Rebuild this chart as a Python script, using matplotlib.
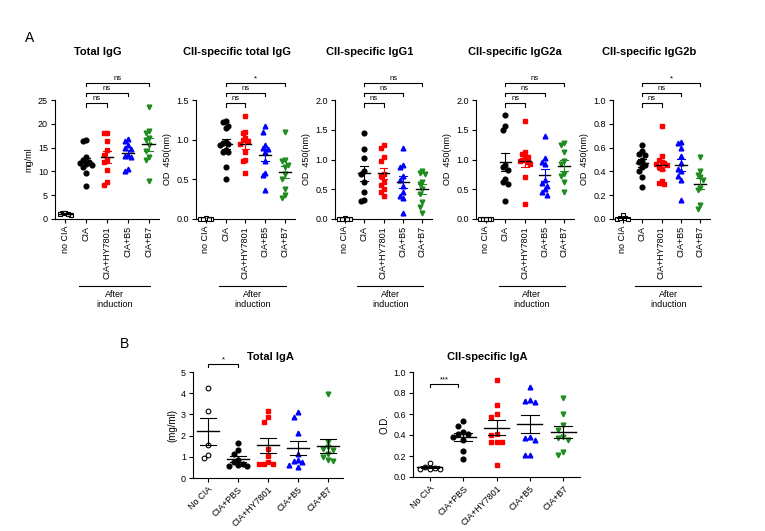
import numpy as np
import matplotlib
matplotlib.use('Agg')
import matplotlib.pyplot as plt
import matplotlib.transforms as mtransforms

plt.rcParams['font.family'] = ['Liberation Sans', 'DejaVu Sans']

W, H = 765, 531

# ---- panel A data ----
groups_a = ['no CIA', 'CIA', 'CIA+HY7801', 'CIA+B5', 'CIA+B7']

total_igg = [
    [1.2, 1.0, 1.3, 0.9, 1.1],
    [16.5, 16.3, 13.0, 12.5, 12.0, 11.8, 11.5, 11.3, 11.0, 9.7, 7.0],
    [18.0, 18.0, 16.3, 14.5, 13.5, 12.5, 12.0, 10.3, 7.7, 7.2],
    [16.8, 16.3, 15.5, 15.0, 14.8, 13.5, 13.3, 13.0, 10.5, 10.0],
    [23.5, 18.5, 18.0, 17.0, 16.5, 15.5, 14.3, 13.0, 12.5, 8.0],
]
cii_total_igg = [
    [0.0, 0.0, 0.01, 0.0, 0.0],
    [1.24, 1.22, 1.17, 1.15, 0.97, 0.96, 0.95, 0.93, 0.87, 0.85, 0.84, 0.66, 0.5],
    [1.3, 1.1, 1.08, 1.02, 1.0, 0.98, 0.95, 0.85, 0.75, 0.73, 0.58],
    [1.17, 1.1, 0.93, 0.9, 0.88, 0.85, 0.73, 0.58, 0.55, 0.37],
    [1.1, 0.75, 0.73, 0.68, 0.65, 0.57, 0.5, 0.38, 0.3, 0.27],
]
cii_igg1 = [
    [0.0, 0.0, 0.01, 0.0, 0.0],
    [1.45, 1.17, 1.03, 0.8, 0.75, 0.62, 0.45, 0.32, 0.3],
    [1.25, 1.2, 1.05, 0.97, 0.75, 0.72, 0.62, 0.57, 0.5, 0.45, 0.38],
    [1.2, 0.9, 0.87, 0.72, 0.65, 0.55, 0.45, 0.38, 0.35, 0.1],
    [0.8, 0.78, 0.75, 0.62, 0.58, 0.5, 0.42, 0.28, 0.2, 0.1],
]
cii_igg2a = [
    [0.0, 0.0, 0.0, 0.0, 0.0],
    [1.75, 1.57, 1.5, 0.9, 0.88, 0.83, 0.67, 0.62, 0.58, 0.3],
    [1.65, 1.13, 1.1, 1.05, 1.02, 1.0, 0.97, 0.95, 0.92, 0.7, 0.25],
    [1.4, 1.03, 0.95, 0.92, 0.65, 0.6, 0.55, 0.5, 0.45, 0.4],
    [1.27, 1.25, 1.13, 0.97, 0.93, 0.75, 0.72, 0.62, 0.45],
]
cii_igg2b = [
    [0.03, 0.01, 0.0, 0.0, 0.01],
    [0.62, 0.57, 0.55, 0.54, 0.5, 0.48, 0.45, 0.44, 0.4, 0.35, 0.27],
    [0.78, 0.53, 0.5, 0.48, 0.47, 0.46, 0.45, 0.44, 0.42, 0.32, 0.3, 0.29],
    [0.65, 0.64, 0.6, 0.53, 0.47, 0.42, 0.4, 0.36, 0.33, 0.16],
    [0.52, 0.4, 0.37, 0.35, 0.33, 0.26, 0.24, 0.12, 0.08],
]

titles_a = ['Total IgG', 'CII-specific total IgG', 'CII-specific IgG1',
            'CII-specific IgG2a', 'CII-specific IgG2b']
ylabels_a = ['mg/ml', 'OD  450(nm)', 'OD  450(nm)', 'OD  450(nm)', 'OD  450(nm)']
ylims_a = [25, 1.5, 2.0, 2.0, 1.0]
ysteps_a = [5, 0.5, 0.5, 0.5, 0.2]
tickfmt_a = ['{:.0f}', '{:.1f}', '{:.1f}', '{:.1f}', '{:.1f}']
sig_a = [['ns', 'ns', 'ns'], ['ns', 'ns', '*'], ['ns', 'ns', 'ns'],
         ['ns', 'ns', 'ns'], ['ns', 'ns', '*']]

# ---- panel B data ----
groups_b = ['No CIA', 'CIA+PBS', 'CIA+HY7801', 'CIA+B5', 'CIA+B7']
total_iga = [
    [4.25, 3.15, 1.55, 1.1, 0.95],
    [1.65, 1.32, 1.12, 0.85, 0.75, 0.65, 0.6, 0.58, 0.55],
    [3.15, 2.88, 2.65, 1.35, 1.05, 0.75, 0.68, 0.68, 0.68],
    [3.1, 2.88, 2.12, 1.15, 0.85, 0.8, 0.75, 0.62, 0.5],
    [3.95, 1.7, 1.45, 1.38, 1.3, 1.15, 1.0, 0.85, 0.8],
]
cii_iga = [
    [0.13, 0.1, 0.09, 0.08, 0.08, 0.08],
    [0.53, 0.49, 0.43, 0.41, 0.41, 0.38, 0.35, 0.25, 0.17],
    [0.92, 0.69, 0.6, 0.57, 0.41, 0.4, 0.33, 0.33, 0.33, 0.11],
    [0.86, 0.73, 0.72, 0.71, 0.38, 0.37, 0.35, 0.21, 0.21],
    [0.75, 0.6, 0.5, 0.45, 0.38, 0.37, 0.35, 0.24, 0.21],
]

colors = ['black', 'black', '#ff0000', '#0000ff', '#1e8c1e']
markers_a = ['s', 'o', 's', '^', 'v']
markers_b = ['o', 'o', 's', '^', 'v']

fig = plt.figure(figsize=(W / 100, H / 100), dpi=100)


def px_axes(x0, top, w, h):
    return fig.add_axes([x0 / W, 1 - (top + h) / H, w / W, h / H])


def swarm(vals, yrange, step=0.13, near=0.05):
    # spread points that sit at nearly the same height
    offs = np.zeros(len(vals))
    placed = []
    for k in np.argsort(vals)[::-1]:
        v = vals[k]
        used = [s for (pv, s) in placed if abs(pv - v) < near * yrange]
        for s in [0, -1, 1, -2, 2, -3, 3, -4, 4]:
            if s not in used:
                break
        offs[k] = s * step
        placed.append((v, s))
    return offs


def dot_plot(ax, data, yrange, markers, ms, mean_w, cap_w, bar_colors, step):
    for i, vals in enumerate(data):
        vals = np.array(vals)
        xs = i + swarm(vals, yrange, step)
        if i == 0:
            ax.plot(xs, vals, linestyle='none', marker=markers[i], ms=ms,
                    mfc='white', mec='black', mew=0.8, clip_on=False, zorder=3)
        else:
            ax.plot(xs, vals, linestyle='none', marker=markers[i], ms=ms,
                    color=colors[i], mec=colors[i], clip_on=False, zorder=3)
        m = vals.mean()
        sem = vals.std(ddof=1) / np.sqrt(len(vals))
        bc = bar_colors[i]
        ax.plot([i - mean_w / 2, i + mean_w / 2], [m, m], color='black', lw=1.0, zorder=4)
        ax.plot([i, i], [m - sem, m + sem], color=bc, lw=0.8, zorder=4)
        for yy in (m - sem, m + sem):
            ax.plot([i - cap_w / 2, i + cap_w / 2], [yy, yy], color=bc, lw=0.8, zorder=4)


def bracket(ax, x1, x2, y, label, tick=0.02, fs=5.5):
    tr = mtransforms.blended_transform_factory(ax.transData, ax.transAxes)
    ax.plot([x1, x1, x2, x2], [y - tick, y, y, y - tick], color='black', lw=0.8,
            transform=tr, clip_on=False)
    ax.text((x1 + x2) / 2, y + 0.005, label, ha='center', va='bottom', fontsize=fs,
            transform=tr)


def style_axes(ax, ymax, step, fmt, fs):
    for s in ['top', 'right']:
        ax.spines[s].set_visible(False)
    for s in ['left', 'bottom']:
        ax.spines[s].set_linewidth(0.8)
    ax.set_xlim(-0.5, 4.5)
    ax.set_ylim(0, ymax)
    ticks = np.arange(0, ymax + step / 2, step)
    ax.set_yticks(ticks)
    ax.set_yticklabels([fmt.format(t) for t in ticks], fontsize=fs)
    ax.tick_params(length=3, width=0.8, pad=2)


# ---- panel A ----
fig.text(25 / W, 1 - 38 / H, 'A', fontsize=10, ha='left', va='center')
lefts_a = [55, 196, 335, 476, 613]
widths_a = [104, 99, 97, 98, 97]
title_x_a = [98, 237, 370, 515, 649]
datasets_a = [total_igg, cii_total_igg, cii_igg1, cii_igg2a, cii_igg2b]

for k in range(5):
    ax = px_axes(lefts_a[k], 100, widths_a[k], 119)
    style_axes(ax, ylims_a[k], ysteps_a[k], tickfmt_a[k], 6.5)
    dot_plot(ax, datasets_a[k], ylims_a[k], markers_a, 3.4, 0.6, 0.4, colors, 0.14)
    ax.set_xticks(range(5))
    ax.set_xticklabels(groups_a, rotation=90, fontsize=6.5)
    ax.set_ylabel(ylabels_a[k], fontsize=6.5, labelpad=3)
    fig.text(title_x_a[k] / W, 1 - 52 / H, titles_a[k], fontsize=8, fontweight='bold',
             ha='center', va='center')
    for j, (x2, y) in enumerate(zip([2, 3, 4], [0.975, 1.06, 1.145])):
        bracket(ax, 1, x2, y, sig_a[k][j], tick=0.03)
    tr = mtransforms.blended_transform_factory(ax.transData, ax.transAxes)
    ax.plot([0.65, 4.05], [-0.563, -0.563], color='black', lw=0.8, transform=tr,
            clip_on=False)
    ax.text(2.35, -0.6, 'After\ninduction', ha='center', va='top', fontsize=6.5,
            linespacing=1.1, transform=tr)

# ---- panel B ----
fig.text(120 / W, 1 - 344 / H, 'B', fontsize=10, ha='left', va='center')

axb1 = px_axes(193, 372, 150, 106)
style_axes(axb1, 5, 1, '{:.0f}', 6.5)
dot_plot(axb1, total_iga, 5, markers_b, 3.4, 0.75, 0.53, ['black'] * 5, 0.15)
axb1.set_ylabel('(mg/ml)', fontsize=7, labelpad=3)
fig.text(270 / W, 1 - 357 / H, 'Total IgA', fontsize=8, fontweight='bold',
         ha='center', va='center')
bracket(axb1, 0, 1, 1.08, '*', tick=0.03)

axb2 = px_axes(413, 372, 167, 105)
style_axes(axb2, 1.0, 0.2, '{:.1f}', 6.5)
dot_plot(axb2, cii_iga, 1.0, markers_b, 3.4, 0.75, 0.53, ['black'] * 5, 0.15)
axb2.set_ylabel('O.D.', fontsize=7, labelpad=3)
fig.text(487 / W, 1 - 357 / H, 'CII-specific IgA', fontsize=8, fontweight='bold',
         ha='center', va='center')
bracket(axb2, 0, 0.85, 0.89, '***', tick=0.03)

for ax in (axb1, axb2):
    ax.set_xticks(range(5))
    ax.set_xticklabels(groups_b, rotation=45, ha='right', rotation_mode='anchor',
                       fontsize=6.5)

fig.savefig('out.png', dpi=100)
